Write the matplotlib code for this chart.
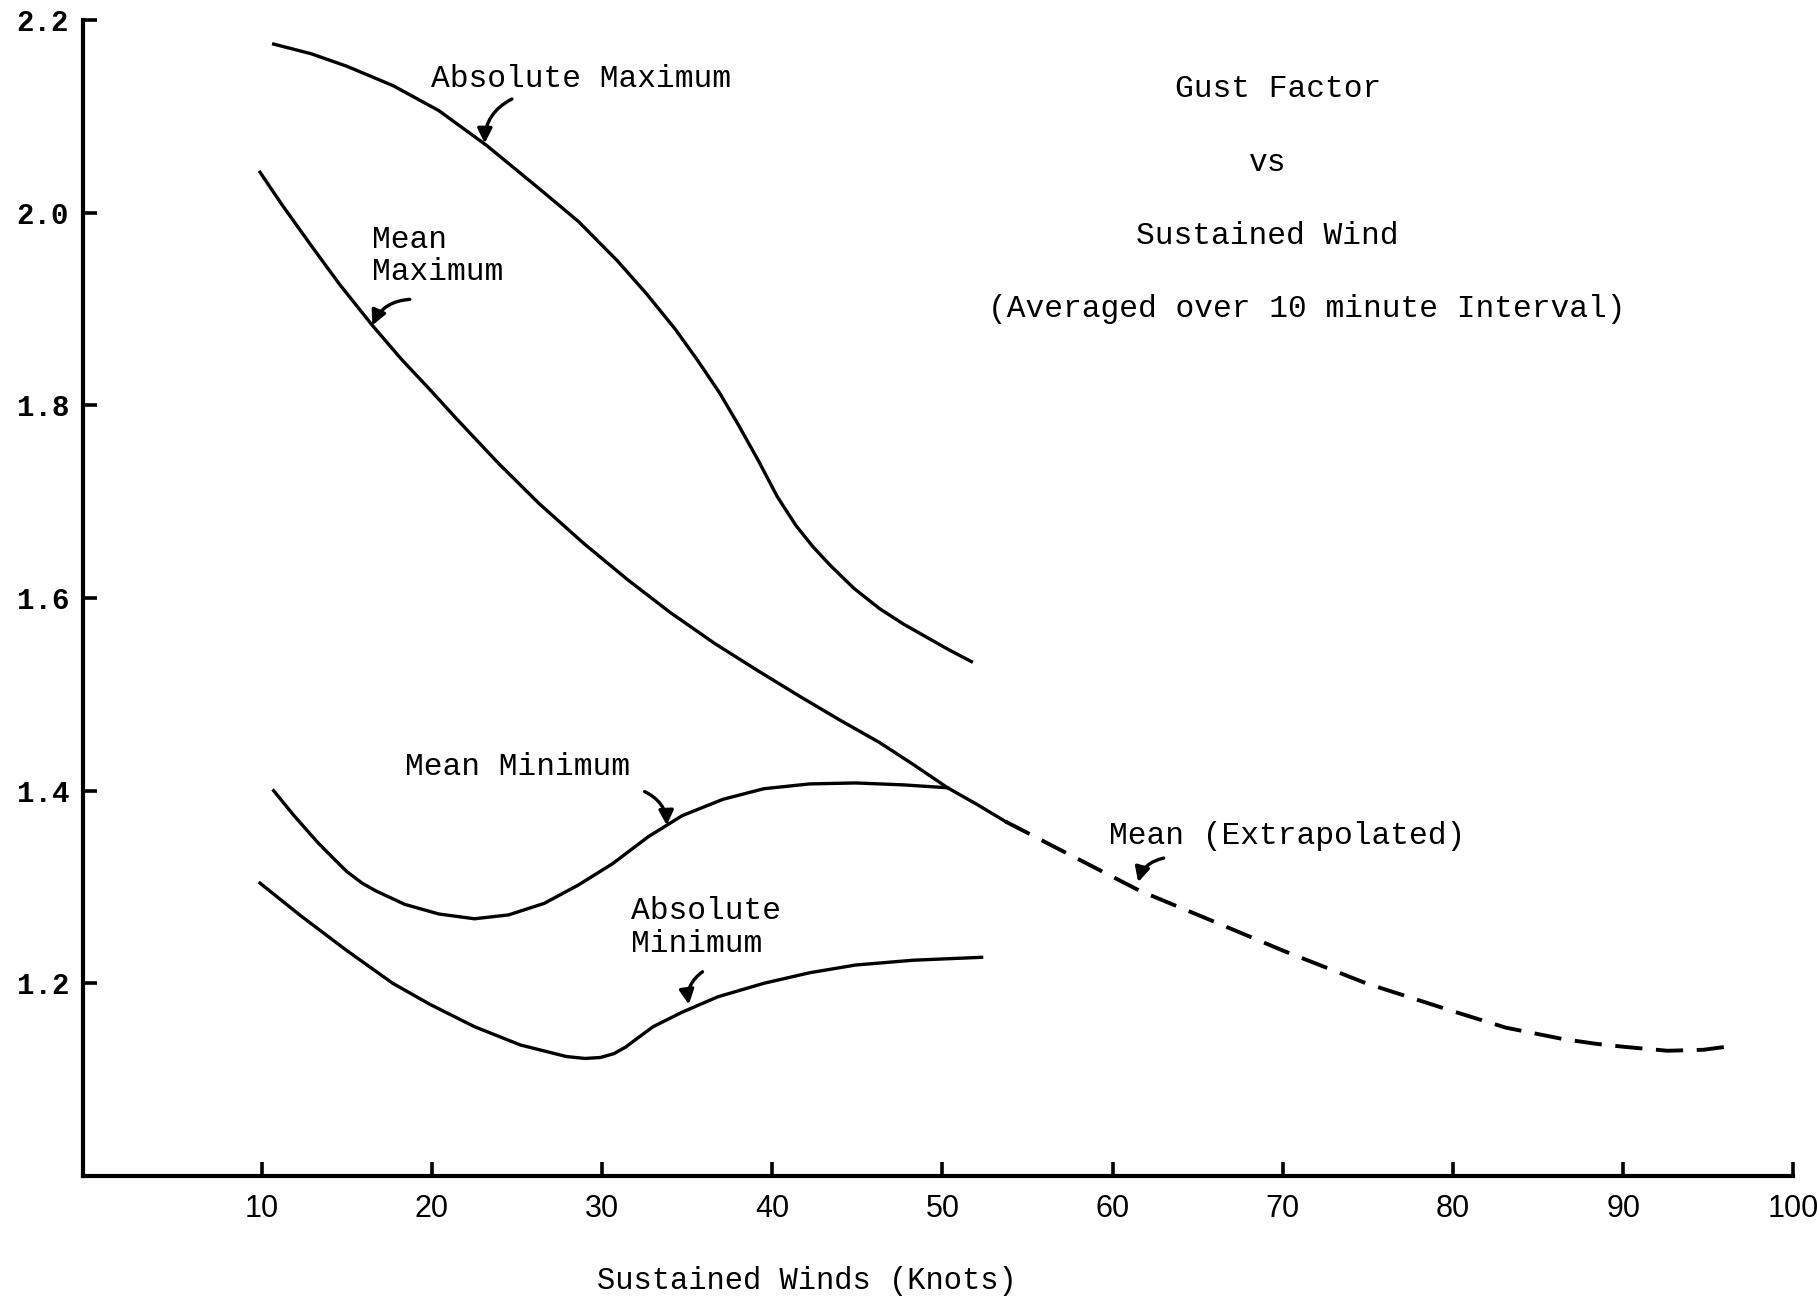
import matplotlib.pyplot as plt

plt.rcParams['font.family'] = ['Liberation Mono', 'DejaVu Sans Mono']

# curves (sustained wind in knots, gust factor)
abs_max_x = [10.7, 12.9, 15.0, 17.7, 20.4, 23.2, 26.3, 28.6, 30.9, 32.6, 34.3, 35.6, 36.9, 38.0, 39.2, 40.3,
             41.4, 42.4, 43.4, 44.8, 46.3, 47.7, 49.1, 50.4, 51.7]
abs_max_y = [2.175, 2.165, 2.152, 2.132, 2.106, 2.070, 2.025, 1.991, 1.950, 1.916, 1.879, 1.847, 1.813, 1.780,
             1.742, 1.705, 1.675, 1.653, 1.634, 1.610, 1.589, 1.573, 1.559, 1.546, 1.534]

mean_x = [9.9, 11.2, 12.9, 14.6, 16.5, 18.2, 19.9, 21.5, 23.9, 26.3, 28.9, 31.5, 34.0, 36.6, 39.2, 41.7,
          44.0, 46.3, 48.3, 50.3, 52.0, 53.7]
mean_y = [2.042, 2.008, 1.966, 1.925, 1.883, 1.848, 1.816, 1.785, 1.740, 1.698, 1.657, 1.619, 1.585, 1.553,
          1.524, 1.497, 1.473, 1.450, 1.427, 1.403, 1.386, 1.368]

extrap_x = [53.7, 57.2, 61.6, 66.1, 70.0, 74.9, 80.0, 83.1, 86.5, 88.5, 90.1, 92.6, 94.7, 96.0]
extrap_y = [1.368, 1.336, 1.296, 1.263, 1.234, 1.200, 1.171, 1.154, 1.142, 1.137, 1.134, 1.130, 1.131, 1.134]

mean_min_x = [10.7, 11.9, 13.3, 14.2, 15.0, 15.9, 16.7, 18.4, 20.4, 22.5, 24.5, 26.6, 28.6, 30.6, 32.7, 34.7,
              37.1, 39.5, 42.2, 44.9, 47.7, 50.3]
mean_min_y = [1.400, 1.374, 1.346, 1.330, 1.316, 1.304, 1.296, 1.282, 1.272, 1.267, 1.271, 1.283, 1.302, 1.324,
              1.352, 1.374, 1.391, 1.402, 1.407, 1.408, 1.406, 1.403]

abs_min_x = [9.9, 12.3, 15.0, 17.7, 19.9, 22.5, 25.2, 27.9, 29.0, 29.9, 30.7, 31.4, 32.0, 33.0, 34.7, 36.8,
             39.5, 42.2, 44.9, 48.3, 52.3]
abs_min_y = [1.304, 1.270, 1.234, 1.200, 1.178, 1.155, 1.136, 1.124, 1.122, 1.123, 1.127, 1.134, 1.142, 1.155,
             1.170, 1.186, 1.200, 1.211, 1.219, 1.224, 1.227]

x_ticks = [10, 20, 30, 40, 50, 60, 70, 80, 90, 100]
y_ticks = [1.2, 1.4, 1.6, 1.8, 2.0, 2.2]
y_labels = ['1.2', '1.4', '1.6', '1.8', '2.0', '2.2']

fig = plt.figure(figsize=(18.17, 12.99), dpi=100)
ax = fig.add_axes([0.0457, 0.0947, 0.9413, 0.8899])

lw = 2.4
ax.plot(abs_max_x, abs_max_y, color='black', lw=lw)
ax.plot(mean_x, mean_y, color='black', lw=lw)
ax.plot(extrap_x, extrap_y, color='black', lw=lw + 0.4, linestyle=(0, (7, 3.5)))
ax.plot(mean_min_x, mean_min_y, color='black', lw=lw)
ax.plot(abs_min_x, abs_min_y, color='black', lw=lw)

ax.set_xlim(-0.5, 100)
ax.set_ylim(1.0, 2.2)
ax.set_xticks(x_ticks)
ax.set_yticks(y_ticks)
ax.set_yticklabels(y_labels, fontweight='bold')
ax.set_xticklabels([str(t) for t in x_ticks], family='Liberation Sans')
ax.tick_params(axis='both', direction='in', length=10, width=2.6, labelsize=21)
ax.tick_params(axis='y', pad=10)
ax.tick_params(axis='x', pad=13, labelsize=22)
for s in ['top', 'right']:
    ax.spines[s].set_visible(False)
for s in ['left', 'bottom']:
    ax.spines[s].set_linewidth(3)

ax.set_xlabel('Sustained Winds (Knots)', fontsize=22, labelpad=30, x=0.423)

fs = 22.5
ax.text(69.7, 2.128, 'Gust Factor', fontsize=fs, ha='center', va='center')
ax.text(69.1, 2.052, 'vs', fontsize=fs, ha='center', va='center')
ax.text(69.1, 1.976, 'Sustained Wind', fontsize=fs, ha='center', va='center')
ax.text(71.4, 1.900, '(Averaged over 10 minute Interval)', fontsize=fs, ha='center', va='center')

ax.text(19.95, 2.139, 'Absolute Maximum', fontsize=fs, ha='left', va='center')
ax.text(16.5, 1.955, 'Mean\nMaximum', fontsize=fs, ha='left', va='center', linespacing=1.1)
ax.text(18.4, 1.425, 'Mean Minimum', fontsize=fs, ha='left', va='center')
ax.text(31.7, 1.258, 'Absolute\nMinimum', fontsize=fs, ha='left', va='center', linespacing=1.1)
ax.text(59.8, 1.353, 'Mean (Extrapolated)', fontsize=fs, ha='left', va='center')

arrow = dict(arrowstyle='-|>', color='black', lw=2.4, mutation_scale=22,
             connectionstyle='arc3,rad=0.3', shrinkA=0, shrinkB=0)
ax.annotate('', xy=(23.1, 2.072), xytext=(24.7, 2.118), arrowprops=arrow)
ax.annotate('', xy=(16.5, 1.883), xytext=(18.7, 1.910), arrowprops=arrow)
ax.annotate('', xy=(33.8, 1.364), xytext=(32.5, 1.399),
            arrowprops=dict(arrow, connectionstyle='arc3,rad=-0.3'))
ax.annotate('', xy=(35.1, 1.178), xytext=(35.9, 1.212), arrowprops=arrow)
ax.annotate('', xy=(61.5, 1.305), xytext=(63.0, 1.330), arrowprops=arrow)

fig.savefig('out.png', dpi=100)
